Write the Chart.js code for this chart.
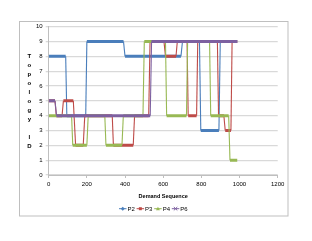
<!DOCTYPE html>
<html><head><meta charset="utf-8">
<script src="https://cdn.jsdelivr.net/npm/chart.js@4.4.1/dist/chart.umd.min.js"></script>
<style>html,body{margin:0;padding:0;background:#fff;}canvas{display:block;}</style>
</head><body>
<canvas id="c" width="312" height="241"></canvas>
<script>
// Series names and colours
const seriesNames = ['P2', 'P3', 'P4', 'P6'];
const seriesColors = ['#4A7EBB', '#BE4B48', '#98B954', '#7D60A0'];

// Breakpoints of each step series (demand index, topology id)
const p2X = [0, 89, 95, 194, 200, 392, 400, 693, 701, 790, 797, 892, 899, 988];
const p2Y = [8, 8, 4, 4, 9, 9, 8, 8, 9, 9, 3, 3, 9, 9];

const p3X = [0, 33, 40, 70, 77, 129, 141, 181, 189, 333, 339, 443, 450, 524, 531, 604, 612, 667, 674, 725, 731, 775, 781, 884, 890, 918, 925, 955, 961, 988];
const p3Y = [5, 5, 4, 4, 5, 5, 2, 2, 4, 4, 2, 2, 4, 4, 9, 9, 8, 8, 9, 9, 4, 4, 9, 9, 4, 4, 3, 3, 9, 9];

const p4X = [0, 120, 126, 200, 207, 294, 300, 384, 391, 494, 501, 612, 618, 722, 728, 843, 849, 943, 950, 988];
const p4Y = [4, 4, 2, 2, 4, 4, 2, 2, 4, 4, 9, 9, 4, 4, 9, 9, 4, 4, 1, 1];

const p6X = [0, 33, 41, 532, 539, 988];
const p6Y = [5, 5, 4, 4, 9, 9];

// Axis ticks
const xTicks = [0, 200, 400, 600, 800, 1000, 1200];
const yTicks = [0, 1, 2, 3, 4, 5, 6, 7, 8, 9, 10];

const xTitle = 'Demand Sequence';
const yTitle = 'Topology ID';

function pts(xs, ys) { return xs.map((x, i) => ({ x: x, y: ys[i] })); }
const allX = [p2X, p3X, p4X, p6X];
const allY = [p2Y, p3Y, p4Y, p6Y];

const datasets = seriesNames.map((n, i) => ({
  label: n,
  data: pts(allX[i], allY[i]),
  borderColor: seriesColors[i],
  backgroundColor: seriesColors[i],
  borderWidth: 1.2,
  pointRadius: 0,
  tension: 0,
  order: 3 - i,
  segment: {
    borderWidth: ctx => (ctx.p0.parsed.y === ctx.p1.parsed.y ? 3 : 1.1)
  }
}));

function drawMarker(ctx, i, x, y) {
  ctx.fillStyle = seriesColors[i];
  ctx.strokeStyle = seriesColors[i];
  ctx.lineWidth = 1;
  ctx.beginPath();
  if (i === 0) { ctx.moveTo(x, y - 2); ctx.lineTo(x + 2, y); ctx.lineTo(x, y + 2); ctx.lineTo(x - 2, y); ctx.closePath(); ctx.fill(); }
  else if (i === 1) { ctx.fillRect(x - 1.5, y - 1.5, 3, 3); }
  else if (i === 2) { ctx.moveTo(x, y - 2); ctx.lineTo(x + 2, y + 1.5); ctx.lineTo(x - 2, y + 1.5); ctx.closePath(); ctx.fill(); }
  else { ctx.moveTo(x - 1.7, y - 1.7); ctx.lineTo(x + 1.7, y + 1.7); ctx.moveTo(x + 1.7, y - 1.7); ctx.lineTo(x - 1.7, y + 1.7); ctx.stroke(); }
}

const deco = {
  id: 'deco',
  beforeDraw(chart) {
    const ctx = chart.ctx;
    ctx.save();
    ctx.fillStyle = '#fff';
    ctx.fillRect(0, 0, chart.width, chart.height);
    ctx.strokeStyle = '#BFBFBF';
    ctx.lineWidth = 1;
    ctx.strokeRect(19.5, 21.5, 268.5, 194.5);
    ctx.restore();
  },
  afterDraw(chart) {
    const ctx = chart.ctx;
    ctx.save();
    // stacked y-axis title
    ctx.fillStyle = '#000';
    ctx.font = 'bold 6px "Liberation Sans", Arial, sans-serif';
    ctx.textAlign = 'center';
    ctx.textBaseline = 'middle';
    const letters = yTitle.split('');
    letters.forEach((ch, k) => { if (ch !== ' ') ctx.fillText(ch, 29.3, 56.7 + k * 8.93); });
    // legend
    ctx.font = '6px "Liberation Sans", Arial, sans-serif';
    ctx.textAlign = 'left';
    const ly = 208.7;
    seriesNames.forEach((n, i) => {
      const x0 = 119 + i * 17.6;
      ctx.strokeStyle = seriesColors[i];
      ctx.lineWidth = 1;
      ctx.beginPath(); ctx.moveTo(x0, ly); ctx.lineTo(x0 + 7.5, ly); ctx.stroke();
      drawMarker(ctx, i, x0 + 3.75, ly);
      ctx.fillStyle = '#000';
      ctx.fillText(n, x0 + 8.5, ly + 0.3);
    });
    ctx.restore();
  }
};

new Chart(document.getElementById('c'), {
  type: 'line',
  data: { datasets: datasets },
  plugins: [deco],
  options: {
    responsive: false,
    animation: false,
    devicePixelRatio: 1,
    layout: { padding: { left: 0, right: 34.3, top: 26.7, bottom: 41.7 } },
    plugins: { legend: { display: false }, tooltip: { enabled: false } },
    scales: {
      x: {
        type: 'linear',
        min: 0, max: 1200,
        afterBuildTicks: s => { s.ticks = xTicks.map(v => ({ value: v })); },
        afterFit: s => { s.height = 24.3; },
        ticks: { color: '#000', font: { size: 6, family: '"Liberation Sans", Arial, sans-serif' }, padding: 3, maxRotation: 0, autoSkip: false, callback: v => String(v) },
        grid: { drawOnChartArea: false, tickLength: 3, color: '#BFBFBF' },
        border: { color: '#BFBFBF' },
        title: { display: true, text: xTitle, color: '#000', padding: 0, font: { size: 5.5, weight: 'bold', family: '"Liberation Sans", Arial, sans-serif' } }
      },
      y: {
        type: 'linear',
        min: 0, max: 10,
        afterBuildTicks: s => { s.ticks = yTicks.map(v => ({ value: v })); },
        afterFit: s => { s.width = 48.7; },
        ticks: { color: '#000', font: { size: 6, family: '"Liberation Sans", Arial, sans-serif' }, padding: 3, callback: v => String(v) },
        grid: { color: '#D9D9D9', lineWidth: 1.3, tickLength: 3 },
        border: { color: '#BFBFBF' }
      }
    }
  }
});
</script>
</body></html>
